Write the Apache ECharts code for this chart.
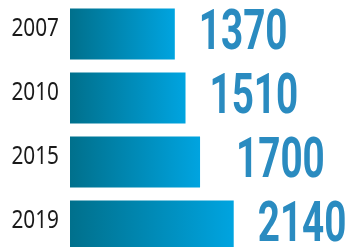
<!DOCTYPE html>
<html>
<head>
<meta charset="utf-8">
<script src="https://cdn.jsdelivr.net/npm/echarts@6/dist/echarts.min.js"></script>
<style>
  html, body { margin: 0; padding: 0; background: #fff; }
  #chart { width: 350px; height: 247px; }
</style>
</head>
<body>
<div id="chart"></div>
<script>
// years, top to bottom
const years = ['2007', '2010', '2015', '2019'];
const values = [1370, 1510, 1700, 2140];

const barGradient = new echarts.graphic.LinearGradient(0, 0, 1, 0, [
  { offset: 0, color: '#00708c' },
  { offset: 0.5, color: '#008ab6' },
  { offset: 1, color: '#00a4e0' }
]);

// year on the left + big condensed value on the right, both squeezed a bit
function renderLabels(params, api) {
  const idx = api.value(1);
  const end = api.coord([api.value(0), idx]);
  const start = api.coord([0, idx]);
  const extra = params.dataIndex === 2 ? 12 : 0;
  return {
    type: 'group',
    children: [{
      type: 'text',
      x: start[0] - 11,
      y: start[1] - 5,
      scaleX: 0.8,
      style: {
        text: years[idx],
        fill: '#1a1a1a',
        font: '26px "Noto Sans", sans-serif',
        align: 'right',
        verticalAlign: 'middle'
      }
    }, {
      type: 'text',
      x: end[0] + 24 + extra,
      y: end[1] + 1,
      scaleX: 0.69,
      style: {
        text: String(api.value(0)),
        fill: '#2a8bc0',
        font: 'bold 56px Roboto, "Liberation Sans", sans-serif',
        align: 'left',
        verticalAlign: 'middle'
      }
    }]
  };
}

const myChart = echarts.init(document.getElementById('chart'));
myChart.setOption({
  animation: false,
  grid: { left: 70, top: 2, width: 306, height: 256, outerBoundsMode: 'none' },
  xAxis: { type: 'value', min: 0, max: 4000, show: false },
  yAxis: {
    type: 'category',
    data: years,
    inverse: true,
    show: false
  },
  series: [{
    type: 'bar',
    data: values,
    barWidth: 51,
    itemStyle: { color: barGradient }
  }, {
    type: 'custom',
    data: values.map((v, i) => [v, i]),
    encode: { x: 0, y: 1 },
    renderItem: renderLabels,
    silent: true
  }]
});
</script>
</body>
</html>
